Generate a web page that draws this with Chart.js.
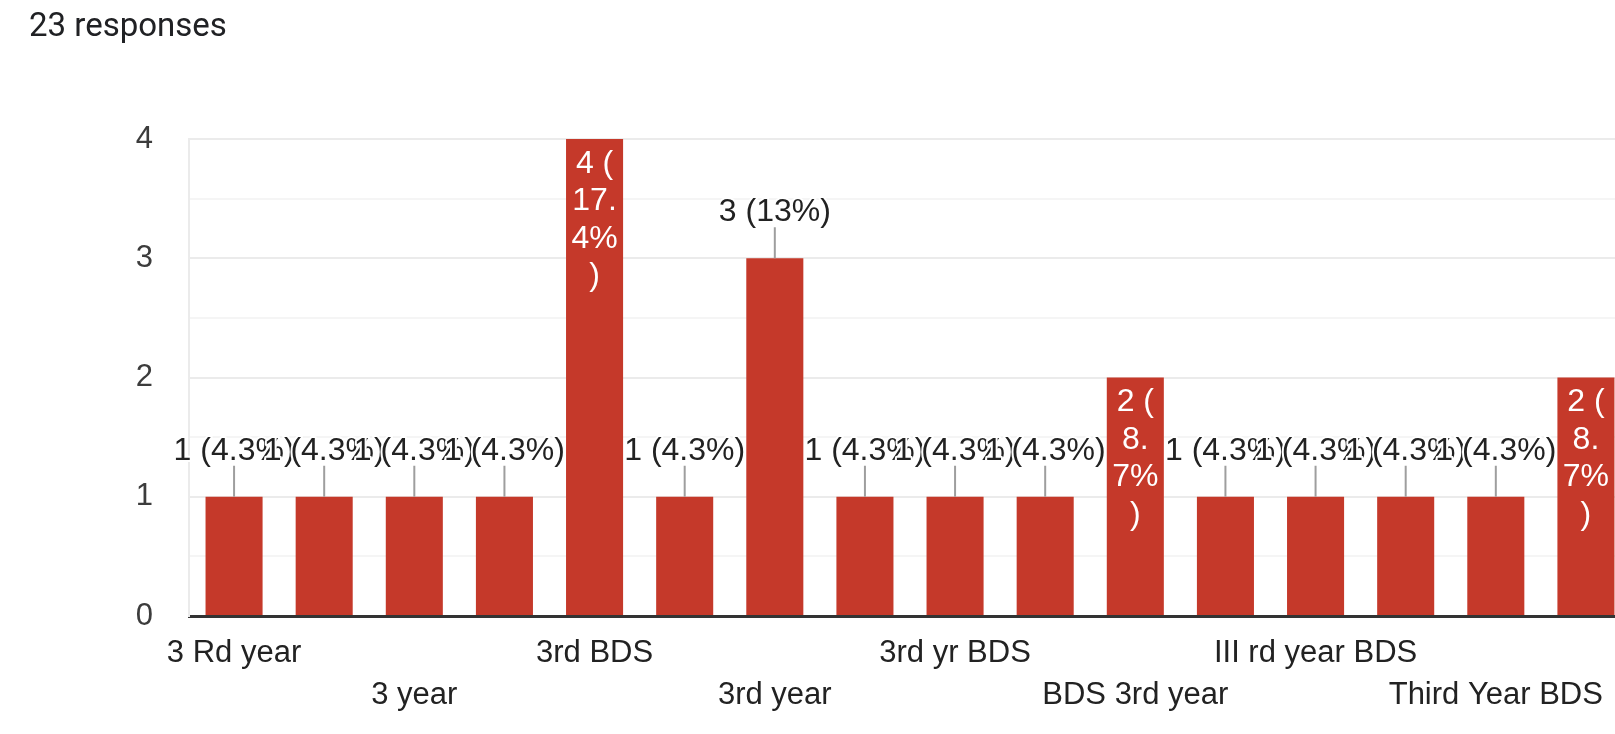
<!DOCTYPE html>
<html>
<head>
<meta charset="utf-8">
<script src="https://cdn.jsdelivr.net/npm/chart.js"></script>
<style>
  html, body { margin: 0; padding: 0; background: #fff; overflow: hidden; }
  #head { position: absolute; left: 29px; top: 10px; font: 33px Roboto, Arial, sans-serif; line-height: 30px; color: #202124; }
  #wrap { position: absolute; left: 0; top: 0; width: 1645px; height: 734px; }
</style>
</head>
<body>
<div id="wrap"><canvas id="c" width="1645" height="734"></canvas></div>
<div id="head">23 responses</div>
<script>
// answers to "Year of study", sorted the way the form lists them
const answers = [
  '3 Rd year', '3 rd yr', '3 year', '3rd', '3rd BDS', '3rd BDS student',
  '3rd year', '3rd year BDS', '3rd yr BDS', 'BDS 3 year', 'BDS 3rd year',
  'BDS third year', 'III rd year BDS', 'III year BDS', 'Third Year BDS', 'Third yr'
];
const counts = [1, 1, 1, 1, 4, 1, 3, 1, 1, 1, 2, 1, 1, 1, 1, 2];
const totalResponses = 23;
const yTicks = [0, 1, 2, 3, 4];

const RED = '#c5392a';
const FONT = '"Liberation Sans", Arial, sans-serif';

const pctOf = v => Math.round(v / totalResponses * 1000) / 10;

// labels drawn like the google forms summary: leader line above, or wrapped inside tall bars
const barLabels = {
  id: 'barLabels',
  afterDatasetsDraw(chart) {
    const ctx = chart.ctx;
    const meta = chart.getDatasetMeta(0);
    ctx.save();
    ctx.textAlign = 'center';
    ctx.textBaseline = 'middle';
    meta.data.forEach((bar, i) => {
      const v = counts[i];
      const p = String(pctOf(v));
      if (v % 2 === 0) {
        // bar too narrow for the whole label, so it wraps
        const [whole, dec] = p.split('.');
        const parts = [v + ' (', whole + '.', (dec || '') + '%', ')'];
        ctx.font = '32px ' + FONT;
        ctx.fillStyle = '#ffffff';
        parts.forEach((s, k) => ctx.fillText(s, bar.x, bar.y + 25 + k * 37.5));
      } else {
        const txt = v + ' (' + p + '%)';
        ctx.strokeStyle = '#9e9e9e';
        ctx.lineWidth = 2;
        ctx.beginPath();
        ctx.moveTo(bar.x, bar.y);
        ctx.lineTo(bar.x, bar.y - 31);
        ctx.stroke();
        ctx.font = '32px ' + FONT;
        ctx.lineJoin = 'round';
        ctx.strokeStyle = '#ffffff';
        ctx.lineWidth = 4;
        ctx.strokeText(txt, bar.x, bar.y - 46);
        ctx.fillStyle = '#222222';
        ctx.fillText(txt, bar.x, bar.y - 46);
      }
    });
    ctx.restore();
  }
};

new Chart(document.getElementById('c'), {
  type: 'bar',
  data: {
    labels: answers,
    datasets: [{
      data: counts,
      backgroundColor: RED,
      borderWidth: 0,
      barPercentage: 0.633,
      categoryPercentage: 1
    }]
  },
  options: {
    responsive: false,
    devicePixelRatio: 1,
    animation: false,
    layout: { padding: { left: 0, right: 14, top: 139, bottom: 0 } },
    plugins: { legend: { display: false }, tooltip: { enabled: false } },
    scales: {
      x: {
        z: 1,
        grid: { display: false, drawTicks: false },
        border: { display: true, color: '#333333', width: 3 },
        ticks: {
          autoSkip: false,
          maxRotation: 0,
          minRotation: 0,
          padding: 16,
          color: '#222222',
          font: { family: FONT, size: 31, lineHeight: 1.36 },
          callback: function (value, i) {
            if (i % 2) return '';
            const name = answers[i];
            return i % 4 === 0 ? name : ['', name];
          }
        },
        afterFit: s => { s.height = 734 - 616; }
      },
      y: {
        min: yTicks[0],
        max: yTicks[yTicks.length - 1],
        border: { display: true, color: '#ebebeb', width: 2 },
        grid: {
          drawTicks: false,
          lineWidth: 2,
          color: c => c.tick.value === 0 ? 'rgba(0,0,0,0)' : (c.tick.value % 1 === 0 ? '#ebebeb' : '#f5f5f5')
        },
        ticks: {
          stepSize: 0.5,
          padding: 36,
          color: '#3c3c3c',
          font: { family: FONT, size: 31 },
          callback: v => yTicks.includes(v) ? v : ''
        },
        afterFit: s => { s.width = 189; }
      }
    }
  },
  plugins: [barLabels]
});
</script>
</body>
</html>
